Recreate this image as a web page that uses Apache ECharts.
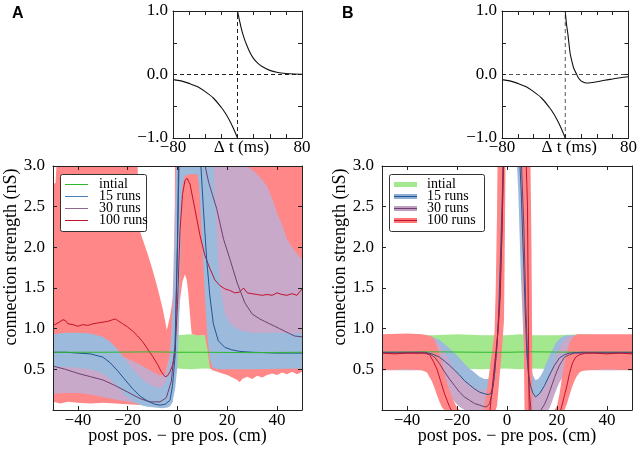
<!DOCTYPE html>
<html><head><meta charset="utf-8">
<script src="https://cdn.jsdelivr.net/npm/echarts@6/dist/echarts.min.js"></script>
<style>html,body{margin:0;padding:0;background:#fff}#c{width:640px;height:450px}</style>
</head><body><div id="c"></div>
<script>
// ---------- top panels: learning windows ----------
const stdpNegA = [[-80,-0.08],[-70,-0.1],[-60,-0.14],[-50,-0.19],[-40,-0.27],[-30,-0.37],[-20,-0.52],[-15,-0.61],[-10,-0.72],[-5,-0.85],[0,-1.0]];
const stdpPosA = [[0,1.0],[2.5,0.85],[5,0.71],[8,0.58],[10,0.51],[15,0.36],[20,0.25],[25,0.18],[30,0.13],[40,0.065],[50,0.032],[60,0.016],[70,0.008],[80,0.004]];
const stdpNegB = [[-80,-0.08],[-70,-0.1],[-60,-0.14],[-50,-0.19],[-40,-0.27],[-30,-0.37],[-20,-0.52],[-15,-0.61],[-10,-0.72],[-5,-0.85],[0,-1.0]];
const stdpPosB = [[0,1.0],[1.5,0.8],[3.3,0.64],[6.2,0.33],[8,0.23],[10.4,0.11],[12.5,0.05],[14.5,0],[17,-0.06],[20,-0.1],[24,-0.125],[28,-0.135],[32,-0.13],[40,-0.115],[50,-0.09],[60,-0.07],[70,-0.05],[80,-0.035]];
const zeroLine = [[-80,0],[80,0]];
const originLine = [[0,-1],[0,1]];

// ---------- legend ----------
const legendNames = ['intial','15 runs','30 runs','100 runs'];

// ---------- panel A bands ----------
const aGreenLower = [[-50,0.5],[-40,0.51],[-30,0.5],[-20,0.51],[-10,0.5],[0,0.51],[5,0.5],[10,0.51],[20,0.5],[30,0.51],[40,0.5],[50,0.5]];
const aGreenUpper = [[-50,0.92],[-40,0.93],[-30,0.92],[-20,0.93],[-10,0.92],[0,0.92],[5,0.93],[10,0.92],[20,0.92],[30,0.93],[40,0.92],[50,0.92]];
const aRedUpper = [[-50,2.78],[-49,2.79],[-48.6,3.0],[-16,3.0],[-15.6,2.25],[-14,2.1],[-12,1.92],[-10,1.72],[-8,1.5],[-6,1.25],[-5,1.1],[-4.3,0.98],[-3,1.15],[-2,1.35],[-1.3,1.6],[-1,3.0],[50,3.0]];
const aRedLower = [[-50,0.1],[-47,0.08],[-44,0.1],[-40,0.09],[-35,0.08],[-30,0.09],[-25,0.08],[-20,0.07],[-15,0.06],[-10,0.05],[-5,0.04],[-2,0.1],[-1,0.5],[-0.3,0.95],[0.5,1.15],[1,1.35],[2,1.58],[3,1.67],[3.7,1.6],[4.3,1.45],[5,1.18],[5.7,0.93],[8,0.92],[11,0.92],[12,0.75],[13,0.52],[14,0.49],[16,0.47],[18,0.45],[20,0.43],[22,0.4],[24,0.37],[25,0.34],[26,0.38],[28,0.41],[30,0.38],[32,0.42],[34,0.4],[36,0.43],[38,0.45],[40,0.43],[42,0.46],[44,0.44],[46,0.47],[48,0.44],[50,0.47]];
const aPurpleUpper = [[-50,0.85],[-40,0.82],[-30,0.75],[-25,0.7],[-20,0.63],[-15,0.56],[-10,0.47],[-7,0.42],[-5,0.45],[-3,0.7],[-2,1.3],[-1,2.5],[-0.5,3.0],[28,3.0],[30,2.95],[32,2.9],[34,2.83],[36,2.75],[38,2.6],[40,2.42],[42,2.28],[44,2.1],[46,2.0],[48,1.92],[50,1.85]];
const aPurpleLower = [[-50,0.2],[-45,0.21],[-40,0.21],[-35,0.19],[-30,0.16],[-25,0.13],[-20,0.1],[-15,0.07],[-10,0.04],[-6,0.03],[-3,0.05],[-2,0.1],[-1,0.35],[0,0.9],[0.5,1.6],[1,2.4],[1.5,3.0],[11.5,3.0],[12.5,2.6],[13.5,1.9],[14.5,1.3],[15.5,0.95],[17,0.75],[19,0.66],[22,0.62],[30,0.6],[50,0.6]];
const aBlueUpper = [[-50,0.93],[-45,0.95],[-40,0.95],[-35,0.94],[-30,0.9],[-27,0.84],[-24,0.74],[-21,0.62],[-18,0.5],[-15,0.4],[-12,0.33],[-9,0.28],[-7,0.27],[-5,0.32],[-4,0.45],[-3,0.65],[-2,1.0],[-1.3,1.6],[-0.8,2.4],[-0.4,3.0],[14.5,3.0],[15,2.65],[15.5,2.3],[16,2.0],[16.5,1.75],[17,1.57],[18,1.35],[19,1.2],[20,1.12],[22,1.04],[25,0.98],[30,0.95],[40,0.95],[50,0.94]];
const aBlueLower = [[-50,0.53],[-45,0.53],[-40,0.52],[-35,0.5],[-30,0.45],[-27,0.38],[-24,0.28],[-21,0.18],[-18,0.11],[-15,0.06],[-12,0.04],[-9,0.03],[-6,0.02],[-4,0.03],[-3,0.05],[-2,0.1],[-1,0.25],[0,0.55],[0.5,0.95],[1,1.5],[1.5,2.4],[2,2.75],[3,2.88],[5,2.9],[8,2.9],[8.5,2.8],[9,2.6],[10,2.0],[11,1.4],[12,0.9],[13,0.62],[14,0.53],[16,0.5],[20,0.5],[30,0.5],[50,0.51]];

// ---------- panel A lines ('-' = the line is outside the 0..3 frame) ----------
const aGreenLine = [[-50,0.71],[-30,0.71],[-10,0.715],[0,0.71],[10,0.71],[30,0.705],[50,0.71]];
const aRedLine = [[-50,1.04],[-48,1.07],[-46,1.11],[-45,1.1],[-44,1.06],[-42,1.05],[-40,1.03],[-38,1.05],[-36,1.04],[-34,1.06],[-32,1.07],[-30,1.08],[-28,1.09],[-26,1.11],[-25,1.12],[-24,1.1],[-22,1.06],[-20,1.02],[-18,0.97],[-16,0.91],[-14,0.84],[-12,0.75],[-10,0.66],[-8,0.56],[-6.5,0.47],[-5,0.41],[-4,0.42],[-3,0.47],[-2,0.55],[-1,0.7],[0,1.3],[1,2.2],[2,2.65],[3,2.82],[3.8,2.85],[5,2.78],[7,2.47],[9,2.15],[11,1.9],[13,1.74],[15,1.6],[17,1.53],[19,1.49],[21,1.47],[23,1.44],[25,1.45],[26.5,1.5],[28,1.44],[30,1.43],[32,1.42],[34,1.41],[36,1.42],[38,1.41],[40,1.44],[42,1.42],[44,1.41],[46,1.43],[48,1.41],[49,1.45],[50,1.49]];
const aPurpleLine = [[-50,0.54],[-45,0.5],[-40,0.45],[-35,0.41],[-30,0.37],[-25,0.3],[-20,0.22],[-15,0.14],[-11,0.1],[-7,0.1],[-4.5,0.15],[-2.5,0.35],[-1,0.8],[0,2.0],[0.6,3.0],[5,'-'],[11.1,3.0],[12.5,2.8],[14,2.65],[15.7,2.48],[18.5,2.1],[21,1.86],[24,1.56],[27,1.32],[30,1.18],[33,1.12],[35,1.09],[37,1.06],[39,1.03],[41,1.0],[43,0.97],[45,0.94],[47,0.91],[50,0.9]];
const aBlueLine = [[-50,0.71],[-45,0.71],[-40,0.7],[-35,0.69],[-30,0.65],[-27,0.58],[-24,0.48],[-21,0.37],[-18,0.26],[-15,0.17],[-12,0.11],[-9,0.07],[-7,0.06],[-5,0.07],[-3,0.12],[-2,0.3],[-1,0.65],[-0.5,1.4],[0,2.1],[0.4,3.0],[5,'-'],[9.4,3.0],[10.4,2.47],[11.7,1.86],[13,1.4],[14.4,1.06],[16.4,0.85],[19,0.77],[21.8,0.74],[25,0.72],[30,0.71],[40,0.7],[50,0.7]];

// ---------- panel B bands ----------
const bGreenLower = [[-50,0.5],[-40,0.51],[-30,0.5],[-20,0.51],[-10,0.5],[0,0.51],[5,0.5],[10,0.51],[20,0.5],[30,0.51],[40,0.5],[50,0.5]];
const bGreenUpper = [[-50,0.92],[-40,0.93],[-30,0.92],[-20,0.93],[-10,0.92],[0,0.92],[5,0.93],[10,0.92],[20,0.92],[30,0.93],[40,0.92],[50,0.92]];
const bBlueUpper = [[-50,0.92],[-33,0.92],[-30,0.9],[-27,0.86],[-25,0.81],[-23,0.76],[-21,0.7],[-19,0.64],[-17,0.57],[-15,0.51],[-13,0.46],[-11,0.41],[-9,0.38],[-7.5,0.38],[-6.5,0.42],[-5.5,0.6],[-4.8,0.9],[-4,1.4],[-3.4,2.0],[-2.7,2.8],[-2.5,3.0],[6.7,3.0],[7.2,2.2],[7.7,1.5],[8.2,1.1],[8.7,0.8],[9.4,0.56],[10.3,0.43],[11.4,0.37],[12.5,0.38],[13.5,0.42],[14.5,0.48],[15.5,0.56],[16.5,0.63],[17.5,0.7],[18.5,0.76],[19.5,0.82],[20.5,0.86],[22,0.9],[24,0.92],[50,0.92]];
const bBlueLower = [[-50,0.5],[-33,0.5],[-30,0.48],[-27,0.44],[-25,0.39],[-23,0.34],[-21,0.28],[-19,0.22],[-17,0.16],[-15,0.11],[-13,0.07],[-11,0.04],[-9,0.02],[-7.5,0.02],[-6.5,0.03],[-5.5,0.1],[-4.8,0.25],[-4,0.5],[-3.4,0.8],[-2.7,1.3],[-2.2,1.9],[-1.6,2.6],[-1.2,3.0],[4,3.0],[4.5,2.7],[5,2.2],[5.5,1.7],[6,1.3],[6.5,0.95],[7,0.7],[7.5,0.5],[8,0.35],[8.5,0.25],[9,0.15],[10,0.05],[11,0],[12,0],[13,0.02],[14,0.05],[15,0.1],[16,0.17],[17,0.24],[18,0.31],[19,0.37],[20,0.42],[21,0.45],[22,0.47],[24,0.5],[50,0.5]];
const bPurpleUpper = [[-50,0.92],[-34,0.92],[-31,0.91],[-29,0.88],[-27,0.8],[-25,0.7],[-23,0.6],[-21,0.51],[-19,0.43],[-17,0.37],[-15,0.32],[-13,0.28],[-11,0.25],[-9,0.24],[-8,0.26],[-7,0.32],[-6,0.5],[-5,0.85],[-4,1.3],[-3,2.0],[-2.4,3.0],[7.0,3.0],[7.5,1.7],[8,1.1],[8.5,0.7],[9,0.45],[10,0.25],[11,0.19],[12,0.18],[13,0.2],[14,0.23],[15,0.29],[16,0.36],[17,0.44],[18,0.52],[19,0.61],[20,0.69],[21,0.76],[22,0.81],[23,0.86],[25,0.9],[27,0.92],[50,0.92]];
const bPurpleLower = [[-50,0.49],[-34,0.49],[-31,0.47],[-29,0.42],[-27,0.35],[-25,0.26],[-23,0.18],[-21,0.1],[-19,0.04],[-17,0],[-6.5,0],[-6,0.05],[-5,0.15],[-4,0.45],[-3,0.9],[-2,1.6],[-1.5,2.4],[-1,3.0],[5.3,3.0],[5.5,2.4],[6,1.8],[6.5,1.2],[7,0.75],[7.5,0.4],[8,0.1],[8.5,0],[16.5,0],[17,0.02],[18,0.1],[19,0.19],[20,0.27],[21,0.34],[22,0.39],[23,0.43],[25,0.47],[27,0.49],[50,0.49]];
const bRedUpper = [[-50,0.93],[-40,0.94],[-34,0.93],[-32,0.92],[-30,0.9],[-29,0.86],[-28,0.78],[-27,0.68],[-26,0.58],[-25,0.45],[-24,0.34],[-23,0.24],[-22,0.16],[-21,0.09],[-20,0.03],[-19,0],[-9.5,0],[-8,0.25],[-6.5,0.6],[-5,0.95],[-4.5,1.5],[-4,2.4],[-3.8,3.0],[9.4,3.0],[9.8,2.0],[10,1.14],[10.2,0],[19,0],[20,0.05],[21,0.2],[22,0.4],[23,0.58],[24,0.72],[25,0.82],[26,0.88],[27,0.91],[28,0.93],[40,0.93],[50,0.93]];
const bRedLower = [[-50,0.49],[-40,0.5],[-34,0.49],[-32,0.46],[-30,0.35],[-29,0.27],[-28,0.18],[-27,0.1],[-26,0.03],[-25,0],[-4.5,0],[-4,0.05],[-3,0.4],[-2,0.75],[-1.2,1.1],[-0.9,2.0],[-0.6,3.0],[6.0,3.0],[6.6,1.14],[7.0,0],[23,0],[24,0.08],[25,0.18],[26,0.28],[27,0.36],[28,0.42],[29,0.46],[30,0.48],[32,0.49],[40,0.5],[50,0.49]];

// ---------- panel B lines ----------
const bGreenLine = [[-50,0.71],[-30,0.715],[-10,0.71],[0,0.71],[10,0.715],[30,0.71],[50,0.71]];
const bBlueLine = [[-50,0.71],[-40,0.71],[-33,0.71],[-30,0.69],[-27,0.65],[-25,0.6],[-23,0.55],[-21,0.49],[-19,0.43],[-17,0.36],[-15,0.31],[-13,0.26],[-11,0.22],[-9,0.2],[-7.5,0.19],[-6.5,0.2],[-5.5,0.3],[-4.8,0.5],[-4,0.8],[-3.4,1.14],[-2.7,1.8],[-2,2.5],[-1.6,3.0],[2,'-'],[5.2,3.0],[5.8,2.6],[6.3,2.1],[6.8,1.7],[7.3,1.2],[8,0.65],[8.7,0.42],[9.4,0.3],[10.3,0.21],[11.4,0.16],[13,0.2],[15,0.3],[17,0.43],[19,0.55],[21,0.64],[23,0.68],[25,0.7],[30,0.71],[40,0.71],[50,0.71]];
const bPurpleLine = [[-50,0.7],[-40,0.7],[-33,0.7],[-31,0.69],[-29,0.65],[-27,0.57],[-25,0.47],[-23,0.38],[-21,0.3],[-19,0.22],[-17,0.16],[-15,0.12],[-13,0.08],[-11,0.06],[-9,0.04],[-8,0.04],[-7,0.08],[-6,0.2],[-5,0.45],[-4,0.8],[-3,1.3],[-2,2.2],[-1.5,3.0],[2,'-'],[5.8,3.0],[6.8,2.2],[7.5,1.3],[8.3,0.6],[9,0.2],[9.6,0.0],[12,'-'],[13.6,0.0],[14,0.02],[15,0.07],[16,0.14],[17,0.22],[18,0.31],[19,0.4],[20,0.48],[21,0.55],[22,0.6],[23,0.65],[25,0.68],[27,0.7],[35,0.7],[50,0.7]];
const bRedLine = [[-50,0.7],[-45,0.69],[-40,0.7],[-35,0.7],[-33,0.7],[-31,0.68],[-29.5,0.6],[-28,0.5],[-26.5,0.35],[-25,0.2],[-24,0.12],[-23,0.04],[-22.3,0],[-15,'-'],[-6.8,0],[-5.5,0.4],[-4.5,0.7],[-3.5,1.0],[-2.7,1.4],[-2,2.2],[-1.4,3.0],[3,'-'],[7.7,3.0],[8.2,2.5],[8.5,1.2],[8.8,0.2],[8.9,0],[15,'-'],[21.5,0],[23,0.18],[24.2,0.33],[25,0.45],[26.2,0.58],[27.5,0.65],[29,0.68],[31.5,0.7],[35,0.7],[40,0.69],[45,0.7],[50,0.69]];

// ---------- styling ----------
const SERIF = '"Liberation Serif", "Times New Roman", serif';
const AX = '#222';
const bandCol = {green:'#a3e88f', red:'#ff8787', purple:'#c8a9c9', blue:'#9bbadc'};
const lineCol = {green:'#2eb82e', red:'#c0132c', purple:'#6f3f70', blue:'#24558f'};
const minus = v => String(v).replace(/^-/, '\u2212');

const grids = [
  {left:173, top:11, width:129, height:127},
  {left:502, top:11, width:129, height:127},
  {left:53, top:166, width:249, height:248},
  {left:382, top:166, width:250, height:248}
];

function ax(gi, pos, o) {
  return Object.assign({
    gridIndex: gi, type:'value', position: pos, z: 10,
    axisLine:{show:true, onZero:false, lineStyle:{color:AX, width:1}},
    axisTick:{show:true, inside:true, length:4, lineStyle:{color:AX, width:1}},
    splitLine:{show:false},
    axisLabel:{show:false}
  }, o);
}
const xAxes = [], yAxes = [];
[0,1].forEach(gi => {
  xAxes.push(ax(gi,'bottom',{min:-80,max:80,interval:20,
    axisLabel:{show:true, margin:1, color:'#000', fontFamily:SERIF, fontSize:17, showMinLabel:true, showMaxLabel:true, hideOverlap:false,
      formatter: v => (v===-80||v===80) ? minus(v) : ''},
    name:'\u0394 t (ms)', nameLocation:'middle', nameGap:1, nameMoveOverlap:false,
    nameTextStyle:{color:'#000', fontFamily:SERIF, fontSize:17, verticalAlign:'top', padding:[0,0,0,8]}}));
  xAxes.push(ax(gi,'top',{min:-80,max:80,interval:20}));
  yAxes.push(ax(gi,'left',{min:-1,max:1,interval:0.5,
    axisLabel:{show:true, margin:5, color:'#000', fontFamily:SERIF, fontSize:17, showMinLabel:true, showMaxLabel:true, hideOverlap:false,
      formatter: v => (Math.abs(v)===1||v===0) ? minus(v.toFixed(1)) : ''}}));
  yAxes.push(ax(gi,'right',{min:-1,max:1,interval:0.5}));
});
[2,3].forEach(gi => {
  xAxes.push(ax(gi,'bottom',{min:-50,max:50,splitNumber:5,
    axisLabel:{show:true, margin:2, color:'#000', fontFamily:SERIF, fontSize:17, hideOverlap:false,
      formatter: v => (Math.abs(v)===50) ? '' : minus(v)},
    name:'post pos. \u2212 pre pos. (cm)', nameLocation:'middle', nameGap:17, nameMoveOverlap:false,
    nameTextStyle:{color:'#000', fontFamily:SERIF, fontSize:18, verticalAlign:'top'}}));
  xAxes.push(ax(gi,'top',{min:-50,max:50,splitNumber:5}));
  yAxes.push(ax(gi,'left',{min:0,max:3,interval:0.5,
    axisLabel:{show:true, margin:8, color:'#000', fontFamily:SERIF, fontSize:17, hideOverlap:false,
      formatter: v => v===0 ? '' : v.toFixed(1)}}));
  yAxes.push(ax(gi,'right',{min:0,max:3,interval:0.5}));
});

function band(gi, lower, upper, color, z) {
  return {
    type:'custom', xAxisIndex: gi*2, yAxisIndex: gi*2, silent:true, clip:true, z: z,
    data:[[0,1]], encode:{x:0, y:1},
    renderItem: function (params, api) {
      const pts = upper.map(p => api.coord(p));
      for (let i = lower.length - 1; i >= 0; i--) pts.push(api.coord(lower[i]));
      return {type:'polygon', shape:{points:pts}, style:{fill:color, stroke:null}};
    }
  };
}
function line(gi, data, color, width, z, extra) {
  return Object.assign({
    type:'line', xAxisIndex: gi*2, yAxisIndex: gi*2, data: data, symbol:'none', showSymbol:false,
    connectNulls:false, silent:true, clip:true, z: z, lineStyle:{color:color, width:width}, itemStyle:{color:color}
  }, extra || {});
}
const dash = c => ({lineStyle:{color:c, width:1, type:[4,3]}});

const series = [
  line(0, zeroLine, AX, 1, 3, dash(AX)),
  line(0, originLine, AX, 1, 3, dash(AX)),
  line(0, stdpNegA, '#111', 1.1, 4, {smooth:0.3}),
  line(0, stdpPosA, '#111', 1.1, 4, {smooth:0.3}),
  line(1, zeroLine, '#555', 1, 3, dash('#555')),
  line(1, originLine, '#555', 1, 3, dash('#555')),
  line(1, stdpNegB, '#111', 1.1, 4, {smooth:0.3}),
  line(1, stdpPosB, '#111', 1.1, 4, {smooth:0.3}),
  band(2, aGreenLower, aGreenUpper, bandCol.green, 1),
  band(2, aRedLower, aRedUpper, bandCol.red, 1.2),
  band(2, aPurpleLower, aPurpleUpper, bandCol.purple, 1.4),
  band(2, aBlueLower, aBlueUpper, bandCol.blue, 1.6),
  line(2, aRedLine, lineCol.red, 1, 3),
  line(2, aPurpleLine, lineCol.purple, 1, 3.1),
  line(2, aBlueLine, lineCol.blue, 1, 3.2),
  line(2, aGreenLine, lineCol.green, 1, 3.3),
  band(3, bGreenLower, bGreenUpper, bandCol.green, 1),
  band(3, bBlueLower, bBlueUpper, bandCol.blue, 1.2),
  band(3, bPurpleLower, bPurpleUpper, bandCol.purple, 1.4),
  band(3, bRedLower, bRedUpper, bandCol.red, 1.6),
  line(3, bGreenLine, lineCol.green, 1, 3),
  line(3, bBlueLine, lineCol.blue, 1, 3.1),
  line(3, bPurpleLine, lineCol.purple, 1, 3.2),
  line(3, bRedLine, lineCol.red, 1, 3.3)
];

const legendLineCols = [lineCol.green, '#4a7fb5', '#8e6a8f', lineCol.red];
const legendBandCols = [bandCol.green, '#8fb0d6', '#bf9fc2', '#ff7777'];
const legendCenterCols = [null, lineCol.blue, lineCol.purple, lineCol.red];
const rowsY = [184.5, 196.5, 208.5, 220.5];
const G = [];
function text(x, y, s, font) {
  return {type:'text', x:x, y:y, z:100, silent:true,
    style:{text:s, font:font, fill:'#000', align:'left', verticalAlign:'middle'}};
}
G.push(text(12, 14, 'A', 'bold 16px "Liberation Sans", Arial, sans-serif'));
G.push(text(342, 14, 'B', 'bold 16px "Liberation Sans", Arial, sans-serif'));
[11, 340].forEach(x => G.push({type:'text', x:x, y:257, rotation:Math.PI/2, z:100, silent:true,
  style:{text:'connection strength (nS)', font:'18px ' + SERIF, fill:'#000', align:'center', verticalAlign:'middle'}}));
G.push({type:'rect', z:99, silent:true, shape:{x:60.5, y:174.5, width:86, height:57, r:2}, style:{fill:'#fff', stroke:'#333', lineWidth:1}});
legendNames.forEach((n, i) => {
  G.push({type:'line', z:100, silent:true, shape:{x1:65, y1:rowsY[i], x2:88, y2:rowsY[i]}, style:{stroke:legendLineCols[i], lineWidth:1}});
  G.push(text(99, rowsY[i], n, '14px ' + SERIF));
});
G.push({type:'rect', z:99, silent:true, shape:{x:389.5, y:174.5, width:95, height:57, r:2}, style:{fill:'#fff', stroke:'#333', lineWidth:1}});
legendNames.forEach((n, i) => {
  G.push({type:'rect', z:100, silent:true, shape:{x:394, y:rowsY[i]-2.5, width:23, height:5}, style:{fill:legendBandCols[i]}});
  if (legendCenterCols[i]) G.push({type:'line', z:101, silent:true, shape:{x1:394, y1:rowsY[i], x2:417, y2:rowsY[i]}, style:{stroke:legendCenterCols[i], lineWidth:1}});
  G.push(text(427, rowsY[i], n, '14px ' + SERIF));
});

const chart = echarts.init(document.getElementById('c'), null, {renderer:'canvas'});
chart.setOption({
  animation:false,
  backgroundColor:'#fff',
  grid: grids,
  xAxis: xAxes,
  yAxis: yAxes,
  series: series,
  graphic: {elements: G}
});
</script></body></html>
